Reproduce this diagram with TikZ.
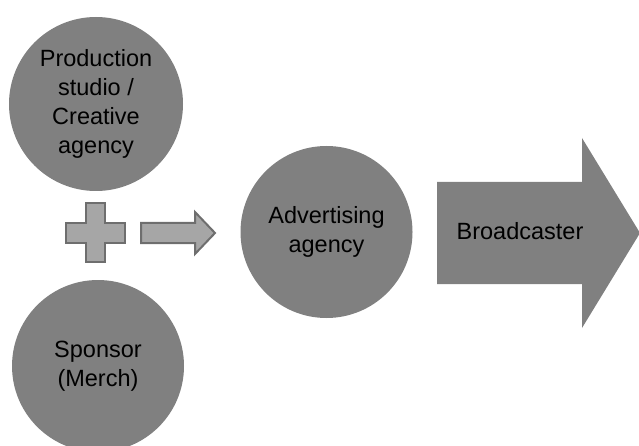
\documentclass[tikz,border=0pt]{standalone}
\usepackage{fontspec}
\setmainfont{Liberation Sans}
\usepackage{tikz}
\usetikzlibrary{arrows.meta, positioning}

\definecolor{discgray}{HTML}{808080}
\definecolor{lightgray}{HTML}{A6A6A6}
\definecolor{edgegray}{HTML}{6E6E6E}

\begin{document}
\begin{tikzpicture}[
                x=1pt, y=-1pt,
                every node/.style={align=center, font=\fontsize{23.5}{29}\selectfont, text=black},
                disc/.style={circle, fill=discgray, inner sep=0pt, minimum size=#1},
                block/.style={fill=lightgray, draw=edgegray, line width=2pt, line join=miter}]
            \useasboundingbox (0,0) rectangle (639,446);

            % Sources
            \node[disc=174pt] (studio) at (96,104) {Production\\studio /\\Creative\\agency};
            \node[disc=172pt] (sponsor) at (98,366) {Sponsor\\(Merch)};

            % Agence
            \node[disc=172pt] (agency) at (326.5,232) {Advertising\\agency};

            % Plus et fleche
            \draw[block] (86,203) -- (105,203) -- (105,223) -- (125,223) -- (125,243)
                -- (105,243) -- (105,262) -- (86,262) -- (86,243) -- (66,243)
                -- (66,223) -- (86,223) -- cycle;
            \draw[block] (141,223) -- (195,223) -- (195,212) -- (215,233) -- (195,254)
                -- (195,243) -- (141,243) -- cycle;

            % Diffuseur
            \fill[discgray] (437,182) -- (582,182) -- (582,138) -- (640,233) -- (582,328)
                -- (582,284) -- (437,284) -- cycle;
            \node (broadcaster) at (520,231) {Broadcaster};

        \end{tikzpicture}
\end{document}
